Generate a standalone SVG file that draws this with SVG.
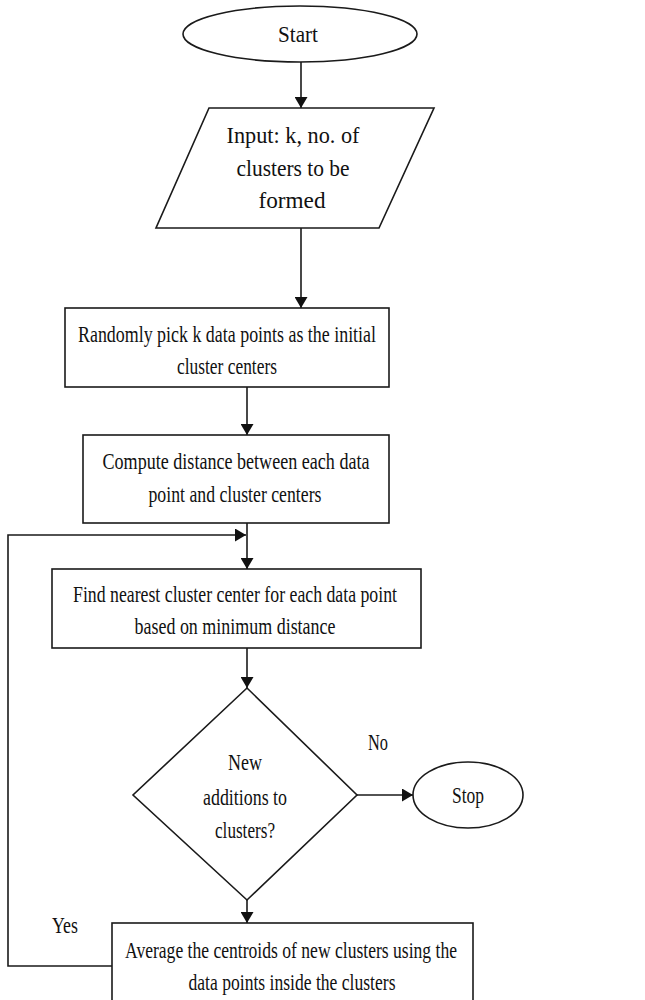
<svg xmlns="http://www.w3.org/2000/svg" width="645" height="1000" viewBox="0 0 645 1000">
<style>
.s{fill:#fff;stroke:#1a1a1a;stroke-width:1.6}
.c{fill:none;stroke:#1a1a1a;stroke-width:1.6}
text{font-family:"Liberation Serif","Times New Roman",serif;font-size:24px;fill:#111;text-anchor:middle}
</style>
<defs>
<marker id="ah" viewBox="0 0 10 10" refX="10" refY="5" markerWidth="11" markerHeight="13" markerUnits="userSpaceOnUse" orient="auto" preserveAspectRatio="none">
<path d="M0,0 L10,5 L0,10 z" fill="#111"/>
</marker>
</defs>
<rect width="645" height="1000" fill="#fff"/>
<g id="connectors">
<line class="c" x1="301" y1="62" x2="301" y2="108" marker-end="url(#ah)"/>
<line class="c" x1="301" y1="228" x2="301" y2="308" marker-end="url(#ah)"/>
<line class="c" x1="247" y1="387" x2="247" y2="435" marker-end="url(#ah)"/>
<line class="c" x1="247" y1="523" x2="247" y2="569" marker-end="url(#ah)"/>
<line class="c" x1="247" y1="648" x2="247" y2="688" marker-end="url(#ah)"/>
<line class="c" x1="357" y1="795" x2="413" y2="795" marker-end="url(#ah)"/>
<line class="c" x1="247" y1="900" x2="247" y2="923" marker-end="url(#ah)"/>
<polyline class="c" points="112,966 8,966 8,535 246,535" marker-end="url(#ah)"/>
<text x="378" y="750" textLength="20" lengthAdjust="spacingAndGlyphs">No</text>
<text x="65" y="933" textLength="26" lengthAdjust="spacingAndGlyphs">Yes</text>
</g>
<g id="start">
<ellipse class="s" cx="300" cy="34" rx="117" ry="28"/>
<text x="298" y="42" textLength="40" lengthAdjust="spacingAndGlyphs">Start</text>
</g>
<g id="input">
<polygon class="s" points="209,108 434,108 379,228 156,228"/>
<text x="293" y="143" textLength="133" lengthAdjust="spacingAndGlyphs">Input: k, no. of</text>
<text x="293" y="176" textLength="113" lengthAdjust="spacingAndGlyphs">clusters to be</text>
<text x="292" y="208" textLength="67" lengthAdjust="spacingAndGlyphs">formed</text>
</g>
<g id="pick">
<rect class="s" x="65" y="308" width="324" height="79"/>
<text x="227" y="342" textLength="298" lengthAdjust="spacingAndGlyphs">Randomly pick k data points as the initial</text>
<text x="227" y="374" textLength="100" lengthAdjust="spacingAndGlyphs">cluster centers</text>
</g>
<g id="compute">
<rect class="s" x="83" y="435" width="306" height="88"/>
<text x="236" y="469" textLength="267" lengthAdjust="spacingAndGlyphs">Compute distance between each data</text>
<text x="235" y="502" textLength="173" lengthAdjust="spacingAndGlyphs">point and cluster centers</text>
</g>
<g id="nearest">
<rect class="s" x="52" y="569" width="369" height="79"/>
<text x="235" y="602" textLength="324" lengthAdjust="spacingAndGlyphs">Find nearest cluster center for each data point</text>
<text x="235" y="634" textLength="201" lengthAdjust="spacingAndGlyphs">based on minimum distance</text>
</g>
<g id="decision">
<polygon class="s" points="247,688 357,795 247,900 133,795"/>
<text x="245" y="770" textLength="34" lengthAdjust="spacingAndGlyphs">New</text>
<text x="245" y="805" textLength="84" lengthAdjust="spacingAndGlyphs">additions to</text>
<text x="245" y="838" textLength="60" lengthAdjust="spacingAndGlyphs">clusters?</text>
</g>
<g id="stop">
<ellipse class="s" cx="468" cy="795" rx="55" ry="33"/>
<text x="468" y="803" textLength="32" lengthAdjust="spacingAndGlyphs">Stop</text>
</g>
<g id="average">
<rect class="s" x="112" y="923" width="361" height="90"/>
<text x="291" y="958" textLength="332" lengthAdjust="spacingAndGlyphs">Average the centroids of new clusters using the</text>
<text x="292" y="990" textLength="207" lengthAdjust="spacingAndGlyphs">data points inside the clusters</text>
</g>
</svg>
